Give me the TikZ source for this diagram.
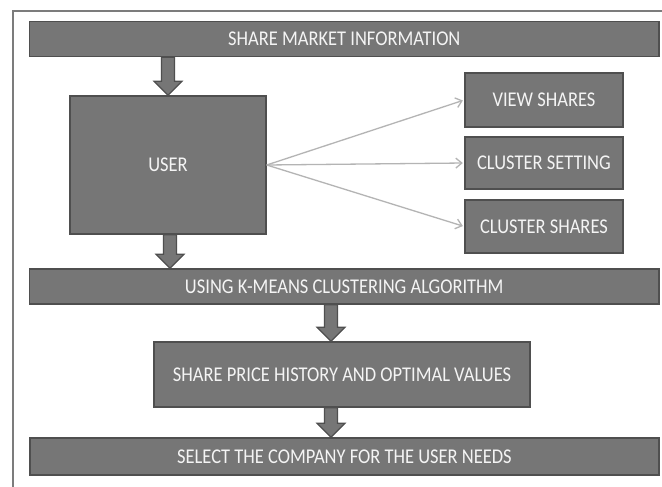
\documentclass[tikz,border=0pt]{standalone}
\usepackage{fontspec}
\setmainfont{Carlito}
\newfontfamily\labelfont[FakeStretch=0.88]{Carlito}
\usetikzlibrary{calc,arrows.meta}
\definecolor{boxfill}{HTML}{767676}
\definecolor{boxline}{HTML}{4F4F4F}
\definecolor{framegray}{HTML}{7C7C7C}
\definecolor{linkgray}{HTML}{B4B4B4}
\definecolor{labelwhite}{HTML}{F4F4F4}
\begin{document}
\begin{tikzpicture}[x=1pt,y=-1pt,
  stagebox/.style={draw=boxline, fill=boxfill, line width=1.4pt, text=labelwhite,
    inner sep=0pt, font=\labelfont\fontsize{21}{23}\selectfont},
  blockarrow/.style={draw=boxline, fill=boxfill, line width=1.2pt,
    to path={let \p1=(\tikztostart), \p2=(\tikztotarget) in
      (\x1-6.5pt,\y1) -- (\x1-6.5pt,\y2+14pt) -- (\x1-14pt,\y2+14pt) -- (\x1,\y2)
      -- (\x1+14pt,\y2+14pt) -- (\x1+6.5pt,\y2+14pt) -- (\x1+6.5pt,\y1) -- cycle}},
  link/.style={draw=linkgray, line width=1.3pt, shorten >=1.5pt,
    -{Straight Barb[length=6pt,width=10pt]}}]

\useasboundingbox (0,0) rectangle (662,487);
\fill[white] (0,0) rectangle (662,487);

% outer frame (open to the right and bottom)
\draw[framegray, line width=2pt] (13,487) -- (13,11) -- (662,11);

% stages
\node[stagebox, minimum width=629.5pt, minimum height=35pt] (market) at (344.25,39.2) {SHARE MARKET INFORMATION};
\node[stagebox, minimum width=196pt, minimum height=138pt] (user) at (168,165) {USER};
\node[stagebox, minimum width=158pt, minimum height=54pt] (view) at (544,100) {VIEW SHARES};
\node[stagebox, minimum width=158pt, minimum height=52pt] (setting) at (544,163) {CLUSTER SETTING};
\node[stagebox, minimum width=158pt, minimum height=53pt] (clshares) at (544,226.5) {CLUSTER SHARES};
\node[stagebox, minimum width=629.5pt, minimum height=35pt] (kmeans) at (344.25,286.5) {USING K-MEANS CLUSTERING ALGORITHM};
\node[stagebox, minimum width=376pt, minimum height=65pt] (history) at (342,374.5) {SHARE PRICE HISTORY AND OPTIMAL VALUES};
\node[stagebox, minimum width=629pt, minimum height=37pt] (select) at (344.5,456.5) {SELECT THE COMPANY FOR THE USER NEEDS};

% block arrows between stages
\coordinate (lower) at (331,0);
\draw[blockarrow] (user.north |- market.south) to (user.north);
\draw[blockarrow] ([xshift=2pt]user.south) to ([xshift=2pt]user.south |- kmeans.north);
\draw[blockarrow] (lower |- kmeans.south) to (lower |- history.north);
\draw[blockarrow] (lower |- history.south) to (lower |- select.north);

% user actions
\draw[link] (user.east) -- (view.west);
\draw[link] (user.east) -- (setting.west);
\draw[link] (user.east) -- (clshares.west);
\end{tikzpicture}
\end{document}
